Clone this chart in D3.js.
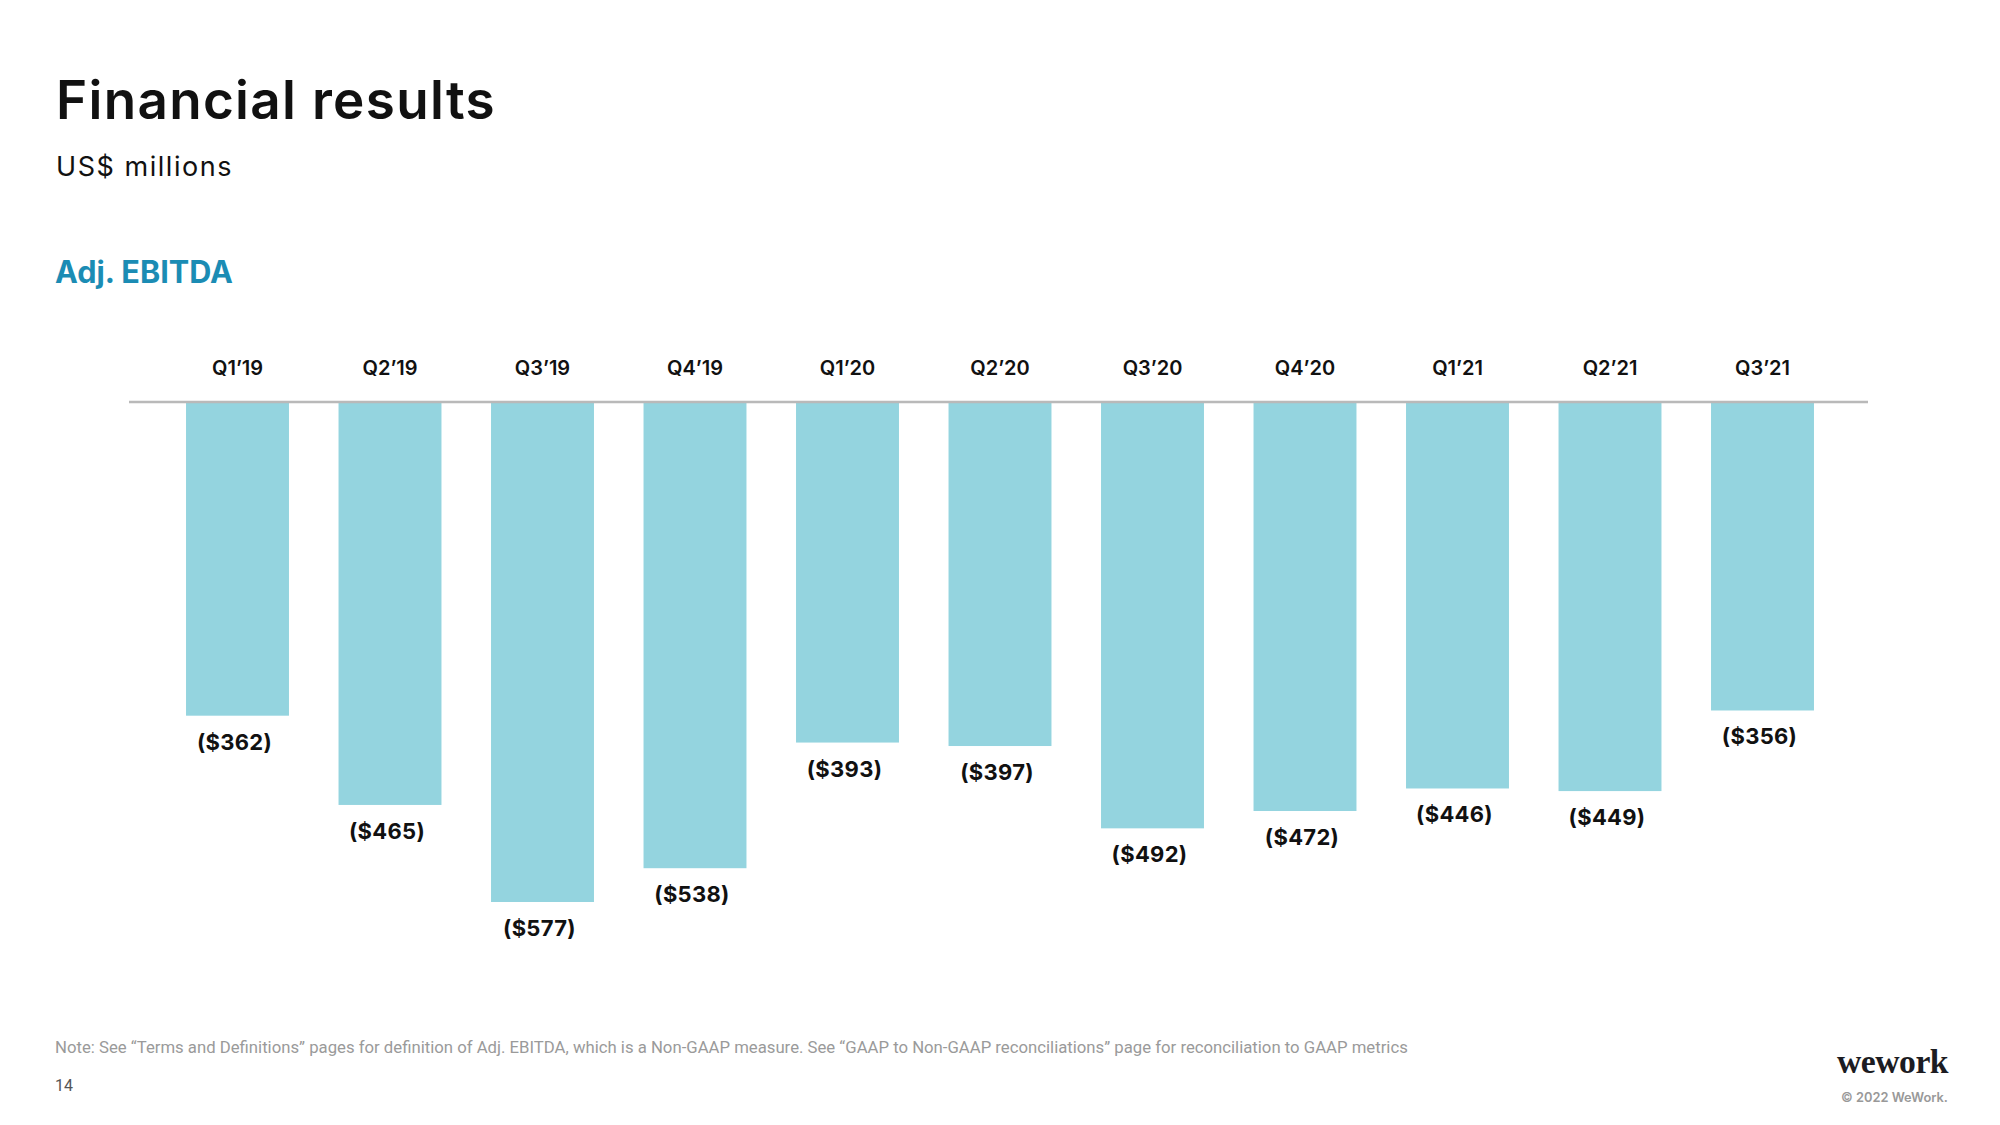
<!DOCTYPE html>
<html>
<head>
<meta charset="utf-8">
<script src="https://cdn.jsdelivr.net/npm/d3@7"></script>
<style>
  html, body { margin: 0; padding: 0; background: #fff; }
  svg { display: block; }
</style>
</head>
<body>
<svg id="chart" width="2000" height="1125"></svg>
<script>
const categories = ["Q1’19","Q2’19","Q3’19","Q4’19","Q1’20","Q2’20","Q3’20","Q4’20","Q1’21","Q2’21","Q3’21"];
const values = [-362,-465,-577,-538,-393,-397,-492,-472,-446,-449,-356];
const valueLabels = ["($362)","($465)","($577)","($538)","($393)","($397)","($492)","($472)","($446)","($449)","($356)"];

const svg = d3.select("#chart");
const font = "Inter, 'Noto Sans', sans-serif";

function fit(sel, w) {
  const n = sel.node();
  const cur = n.getComputedTextLength();
  const fs = parseFloat(sel.attr("font-size"));
  sel.attr("font-size", (fs * w / cur).toFixed(2));
}
function fitSpacing(sel, w) {
  const n = sel.node();
  const cur = n.getComputedTextLength();
  const len = sel.text().length;
  const ls = parseFloat(sel.attr("letter-spacing") || 0);
  sel.attr("letter-spacing", (ls + (w - cur) / len).toFixed(2));
}

// Title block
fitSpacing(svg.append("text").attr("x", 56).attr("y", 119)
  .attr("font-family", font).attr("font-weight", 600).attr("font-size", 53)
  .attr("fill", "#111").attr("letter-spacing", 0).text("Financial results"), 440);

fitSpacing(svg.append("text").attr("x", 56).attr("y", 176)
  .attr("font-family", font).attr("font-weight", 400).attr("font-size", 27)
  .attr("fill", "#111").attr("letter-spacing", 0).text("US$ millions"), 177);

fit(svg.append("text").attr("x", 55).attr("y", 283)
  .attr("font-family", font).attr("font-weight", 700).attr("font-size", 30)
  .attr("fill", "#1b8cb4").text("Adj. EBITDA"), 178);

// Scales
const x = d3.scaleBand().domain(categories).range([161.25, 1838.75])
  .paddingInner(0.325).paddingOuter(0.1625);
const y = d3.scaleLinear().domain([0, -577]).range([402, 902]);

// Bars
svg.append("g").selectAll("rect").data(categories).join("rect")
  .attr("x", d => x(d))
  .attr("y", y(0))
  .attr("width", x.bandwidth())
  .attr("height", (d, i) => y(values[i]) - y(0))
  .attr("fill", "#94d4df");

// Baseline axis
svg.append("line").attr("x1", 129).attr("x2", 1868)
  .attr("y1", y(0)).attr("y2", y(0))
  .attr("stroke", "#b9b9b9").attr("stroke-width", 2.5);

// Category labels
svg.append("g").selectAll("text").data(categories).join("text")
  .attr("x", d => x(d) + x.bandwidth() / 2)
  .attr("y", 375)
  .attr("text-anchor", "middle")
  .attr("font-family", font).attr("font-weight", 600).attr("font-size", 20)
  .attr("fill", "#111")
  .text(d => d);

// Value labels
svg.append("g").selectAll("text").data(categories).join("text")
  .attr("x", d => x(d) + x.bandwidth() / 2 - 3)
  .attr("y", (d, i) => y(values[i]) + 34)
  .attr("text-anchor", "middle")
  .attr("font-family", font).attr("font-weight", 700).attr("font-size", 22)
  .attr("letter-spacing", 0.3)
  .attr("fill", "#111")
  .text((d, i) => valueLabels[i]);

// Footer
fit(svg.append("text").attr("x", 55).attr("y", 1053)
  .attr("font-family", "'Roboto', sans-serif").attr("font-weight", 400).attr("font-size", 15)
  .attr("fill", "#9a9a9a")
  .text("Note: See “Terms and Definitions” pages for definition of Adj. EBITDA, which is a Non-GAAP measure. See “GAAP to Non-GAAP reconciliations” page for reconciliation to GAAP metrics"), 1354);

svg.append("text").attr("x", 55).attr("y", 1091)
  .attr("font-family", "'Roboto', sans-serif").attr("font-size", 16)
  .attr("fill", "#555").text("14");

fit(svg.append("text").attr("x", 1837).attr("y", 1073)
  .attr("font-family", "'Liberation Serif', 'DejaVu Serif', serif").attr("font-weight", 700).attr("font-size", 32)
  .attr("letter-spacing", -0.5)
  .attr("fill", "#1c1c22").text("wework"), 111);

fit(svg.append("text").attr("x", 1841).attr("y", 1102)
  .attr("font-family", font).attr("font-weight", 600).attr("font-size", 13)
  .attr("fill", "#999").text("© 2022 WeWork."), 107);
</script>
</body>
</html>
